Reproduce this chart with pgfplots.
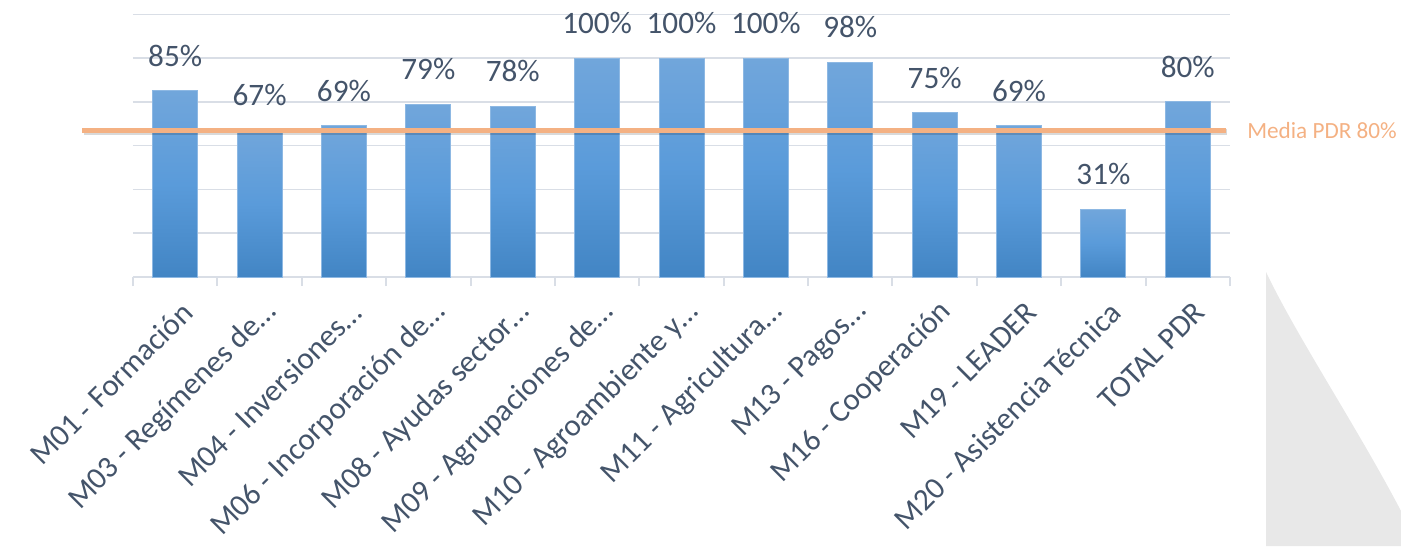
\documentclass[border=0pt]{standalone}
\usepackage{pgfplots}
\pgfplotsset{compat=1.18}
\usepackage{fontspec}
\setmainfont{Carlito}
\definecolor{txt}{HTML}{44546A}
\definecolor{gridc}{HTML}{D9DEE6}
\definecolor{barTop}{HTML}{71A6DB}
\definecolor{barMid}{HTML}{5A9BDA}
\definecolor{barBot}{HTML}{4285C4}
\definecolor{barEdge}{HTML}{8DB8E3}
\definecolor{orangeL}{HTML}{F4B183}
\definecolor{wm}{HTML}{E8E8E8}
\pgfplotsset{
  barsty/.style={ybar, bar width=22.5pt, bar shift=0pt, draw=barEdge, line width=0.5pt,
    top color=barTop, bottom color=barBot, middle color=barMid,
    point meta=y,
    nodes near coords={\pgfmathprintnumber[assume math mode=true]{\pgfplotspointmeta}\%},
    every node near coord/.append style={font=\fontsize{15.6}{18}\selectfont, text=txt, anchor=south, inner sep=0pt, yshift=12pt}}
}
\begin{document}
\begin{tikzpicture}
\fill[wm] (566.5pt,2.5pt) .. controls (582pt,-30pt) and (612pt,-75pt) .. (634pt,-117pt) -- (634pt,-134.5pt) -- (566.5pt,-134.5pt) -- cycle;
\begin{axis}[
  at={(0pt,0pt)}, anchor=south west,
  width=548.5pt, height=131.35pt, scale only axis,
  xmin=-0.5, xmax=12.5, ymin=0, ymax=120,
  clip=false,
  axis lines*=left, axis line style={-},
  x axis line style={draw=gridc, line width=1pt},
  y axis line style={draw=none},
  ytick={0,20,...,120}, yticklabels={}, ytick style={draw=none},
  ymajorgrids, grid style={draw=gridc, line width=0.8pt},
  xtick={0,...,12}, major x tick style={draw=none},
  minor xtick={-0.5,0.5,...,12.5},
  minor x tick style={draw=gridc, line width=1pt},
  minor tick length=4.5pt, tick align=outside,
  xticklabels={{M01 - Formación},{M03 - Regímenes de…},{M04 - Inversiones…},{M06 - Incorporación de…},{M08 - Ayudas sector…},{M09 - Agrupaciones de…},{M10 - Agroambiente y…},{M11 - Agricultura…},{M13 - Pagos…},{M16 - Cooperación},{M19 - LEADER},{M20 - Asistencia Técnica},{TOTAL PDR}},
  xticklabel style={xshift=8.5pt, yshift=-8.5pt, rotate=45, anchor=east, font=\fontsize{15.5}{19}\selectfont, text=txt},
]
\addplot[barsty] coordinates {(0,85)};
\addplot[barsty] coordinates {(1,67)};
\addplot[barsty] coordinates {(2,69)};
\addplot[barsty] coordinates {(3,79)};
\addplot[barsty] coordinates {(4,78)};
\addplot[barsty] coordinates {(5,100)};
\addplot[barsty] coordinates {(6,100)};
\addplot[barsty] coordinates {(7,100)};
\addplot[barsty] coordinates {(8,98)};
\addplot[barsty] coordinates {(9,75)};
\addplot[barsty] coordinates {(10,69)};
\addplot[barsty] coordinates {(11,31)};
\addplot[barsty] coordinates {(12,80)};
\addplot[black, opacity=0.15, line width=3pt, forget plot] coordinates {(-1.08,66.2) (12.47,66.2)};
\addplot[orangeL, line width=2.75pt, forget plot] coordinates {(-1.10,67) (12.45,67)};
\node[anchor=west, text=orangeL, font=\fontsize{11.6}{14}\selectfont, inner sep=0pt] at (axis cs:12.70,67) {Media PDR 80\%};
\end{axis}
\pgfresetboundingbox
\useasboundingbox (-66.5pt,-134.5pt) rectangle (634pt,138.5pt);
\end{tikzpicture}
\end{document}
